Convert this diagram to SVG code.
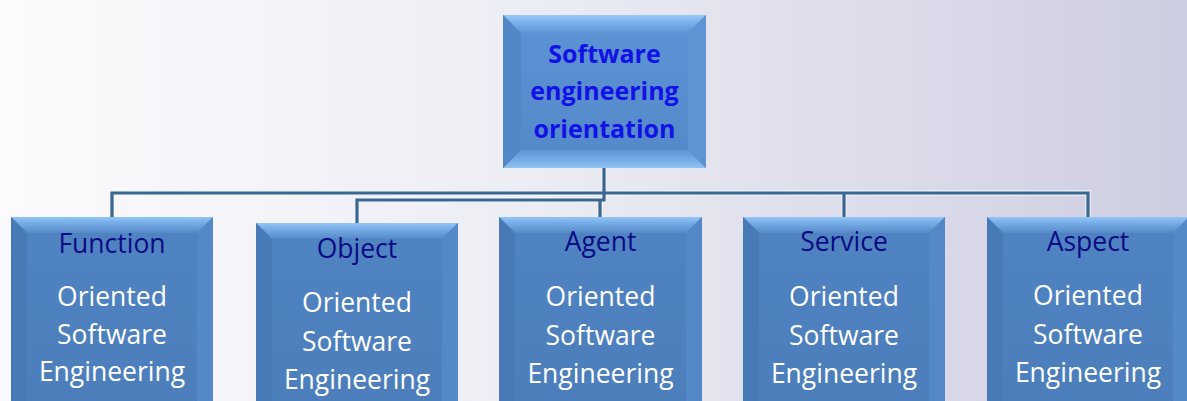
<svg xmlns="http://www.w3.org/2000/svg" width="1187" height="401" viewBox="0 0 1187 401">
<defs>
<linearGradient id="bg" x1="0" y1="0" x2="1" y2="0">
<stop offset="0" stop-color="#fbfbfd"/>
<stop offset="0.45" stop-color="#ececf4"/>
<stop offset="1" stop-color="#cdcde1"/>
</linearGradient>
<linearGradient id="faceTop" x1="0" y1="0" x2="0" y2="1">
<stop offset="0" stop-color="#5c92d3"/>
<stop offset="1" stop-color="#5489ca"/>
</linearGradient>
<linearGradient id="face" x1="0" y1="0" x2="0" y2="1">
<stop offset="0" stop-color="#5083c2"/>
<stop offset="1" stop-color="#4c7ebb"/>
</linearGradient>
<linearGradient id="tb" x1="0" y1="0" x2="0" y2="1">
<stop offset="0" stop-color="#92c5f5"/>
<stop offset="0.35" stop-color="#78aee8"/>
<stop offset="1" stop-color="#5589c8"/>
</linearGradient>
<linearGradient id="rtb" x1="0" y1="0" x2="0" y2="1">
<stop offset="0" stop-color="#96caf8"/>
<stop offset="0.4" stop-color="#7cb2ec"/>
<stop offset="1" stop-color="#5e94d5"/>
</linearGradient>
<linearGradient id="rbb" x1="0" y1="0" x2="0" y2="1">
<stop offset="0" stop-color="#5e94d5"/>
<stop offset="0.6" stop-color="#78aee8"/>
<stop offset="1" stop-color="#92c4f2"/>
</linearGradient>
<style>
.lft{fill:#497ab8}
.rgt{fill:#5588c8}
.conn{fill:none;stroke:#3a6692;stroke-width:3.2}
.halo{fill:none;stroke:#f2f5fa;stroke-width:5.5;opacity:0.8}
.hd{font-family:"Open Sans","DejaVu Sans",sans-serif;font-size:26.5px;fill:#0b0b86;text-anchor:middle}
.bd{font-family:"Open Sans","DejaVu Sans",sans-serif;font-size:26.5px;fill:#ffffff;text-anchor:middle}
.tt{font-family:"Open Sans","DejaVu Sans",sans-serif;font-size:25px;font-weight:bold;fill:#1212e6;text-anchor:middle}
</style>
</defs>
<rect width="1187" height="401" fill="url(#bg)"/>
<g id="connectors">
<path class="halo" d="M604 168V193H112V217M604 193H1088V217M844 193V217M604 193V200H357V223M600 200V217"/>
<path class="conn" d="M604 168V193H112V217"/>
<path class="conn" d="M604 193H1088V217"/>
<path class="conn" d="M844 193V217"/>
<path class="conn" d="M604 193V200H357V223"/>
<path class="conn" d="M600 200V217"/>
</g>
<g id="root">
<rect x="503" y="15" width="203" height="153" fill="url(#faceTop)"/>
<polygon fill="url(#rtb)" points="503,15 706,15 688,33 521,33"/>
<polygon fill="url(#rbb)" points="503,168 706,168 688,150 521,150"/>
<polygon fill="#5287c8" points="503,15 521,33 521,150 503,168"/>
<polygon fill="#5e94d4" points="706,15 688,33 688,150 706,168"/>
<rect x="521" y="33" width="167" height="117" fill="url(#faceTop)"/>
<text class="tt" x="604.5" y="63">Software</text>
<text class="tt" x="604.5" y="100">engineering</text>
<text class="tt" x="604.5" y="138">orientation</text>
</g>
<g id="function">
<rect x="11" y="217" width="202" height="190" fill="url(#face)"/>
<polygon fill="url(#tb)" points="11,217 213,217 197,233 27,233"/>
<polygon class="lft" points="11,217 27,233 27,401 11,401"/>
<polygon class="rgt" points="213,217 197,233 197,401 213,401"/>
<text class="hd" x="112" y="253">Function</text>
<text class="bd" x="112" y="306">Oriented</text>
<text class="bd" x="112" y="344">Software</text>
<text class="bd" x="112" y="381">Engineering</text>
</g>
<g id="object">
<rect x="256" y="223" width="202" height="190" fill="url(#face)"/>
<polygon fill="url(#tb)" points="256,223 458,223 442,239 272,239"/>
<polygon class="lft" points="256,223 272,239 272,401 256,401"/>
<polygon class="rgt" points="458,223 442,239 442,401 458,401"/>
<text class="hd" x="357" y="258">Object</text>
<text class="bd" x="357" y="312">Oriented</text>
<text class="bd" x="357" y="351">Software</text>
<text class="bd" x="357" y="389">Engineering</text>
</g>
<g id="agent">
<rect x="499" y="217" width="203" height="190" fill="url(#face)"/>
<polygon fill="url(#tb)" points="499,217 702,217 686,233 515,233"/>
<polygon class="lft" points="499,217 515,233 515,401 499,401"/>
<polygon class="rgt" points="702,217 686,233 686,401 702,401"/>
<text class="hd" x="600.5" y="251">Agent</text>
<text class="bd" x="600.5" y="306">Oriented</text>
<text class="bd" x="600.5" y="345">Software</text>
<text class="bd" x="600.5" y="383">Engineering</text>
</g>
<g id="service">
<rect x="743" y="217" width="202" height="190" fill="url(#face)"/>
<polygon fill="url(#tb)" points="743,217 945,217 929,233 759,233"/>
<polygon class="lft" points="743,217 759,233 759,401 743,401"/>
<polygon class="rgt" points="945,217 929,233 929,401 945,401"/>
<text class="hd" x="844" y="251">Service</text>
<text class="bd" x="844" y="306">Oriented</text>
<text class="bd" x="844" y="345">Software</text>
<text class="bd" x="844" y="383">Engineering</text>
</g>
<g id="aspect">
<rect x="987" y="217" width="202" height="190" fill="url(#face)"/>
<polygon fill="url(#tb)" points="987,217 1189,217 1173,233 1003,233"/>
<polygon class="lft" points="987,217 1003,233 1003,401 987,401"/>
<polygon class="rgt" points="1189,217 1173,233 1173,401 1189,401"/>
<text class="hd" x="1088" y="251">Aspect</text>
<text class="bd" x="1088" y="305">Oriented</text>
<text class="bd" x="1088" y="344">Software</text>
<text class="bd" x="1088" y="382">Engineering</text>
</g>
</svg>
